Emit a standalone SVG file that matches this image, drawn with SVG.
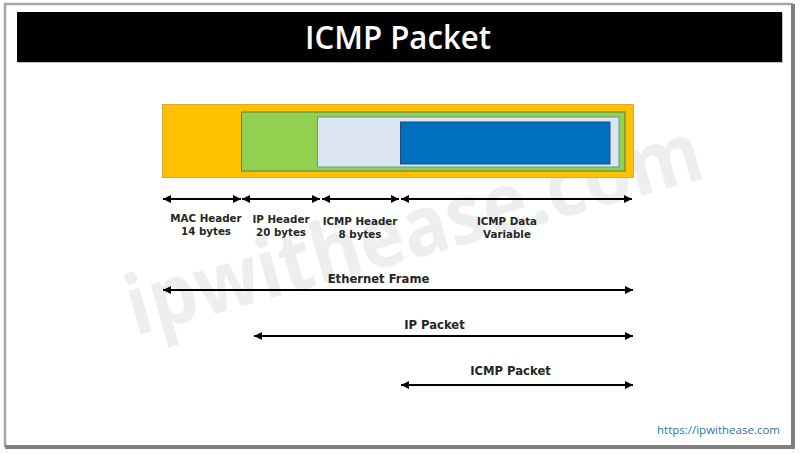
<svg xmlns="http://www.w3.org/2000/svg" width="800" height="454" viewBox="0 0 800 454">
<style>
.lb{font-family:"DejaVu Sans","Liberation Sans",sans-serif;font-weight:700;font-size:10.3px;fill:#262626;text-anchor:middle}
.lg{font-size:11.6px}
.ar{stroke:#000;stroke-width:2;fill:none;marker-start:url(#s);marker-end:url(#e)}
</style>
<defs>
<marker id="e" markerUnits="userSpaceOnUse" markerWidth="10" markerHeight="10" refX="8" refY="5" orient="auto"><path d="M0 1L8 5L0 9z" fill="#000"/></marker>
<marker id="s" markerUnits="userSpaceOnUse" markerWidth="10" markerHeight="10" refX="0" refY="5" orient="auto"><path d="M8 1L0 5L8 9z" fill="#000"/></marker>
</defs>
<rect width="800" height="454" fill="#fff"/>
<g id="frame"><path d="M5 447V4H793" fill="none" stroke="#a6a6a6" stroke-width="2.5"/><path d="M793 4V447H5" fill="none" stroke="#7f7f7f" stroke-width="4"/></g>
<g id="title"><rect x="18" y="13" width="765" height="50" fill="#bfbfbf"/><rect x="17" y="12" width="765" height="50" fill="#000"/>
<text x="398" y="49" font-family="'Open Sans','Noto Sans',sans-serif" font-weight="600" font-size="32" fill="#fff" text-anchor="middle" textLength="186" lengthAdjust="spacingAndGlyphs">ICMP Packet</text></g>
<text id="watermark" x="0" y="0" transform="translate(135 336) rotate(-15.5)" font-family="'Open Sans','Noto Sans',sans-serif" font-weight="700" font-size="83" fill="#e9e9e9" opacity="0.75" textLength="594" lengthAdjust="spacingAndGlyphs">ipwithease.com</text>
<g id="ethernet-box"><rect x="162.5" y="104.5" width="471" height="73" fill="#ffc000" stroke="#d6a93a"/></g>
<g id="ip-box"><rect x="241.5" y="112" width="383.5" height="59" fill="#92d050" stroke="#5e7d3c"/></g>
<g id="icmp-box"><rect x="317.5" y="117" width="301.5" height="50" fill="#dce6f2" stroke="#5f9a8c"/></g>
<g id="data-box"><rect x="400.5" y="122" width="209.5" height="42" fill="#0070c0" stroke="#1f4e79"/></g>
<g id="connectors">
<line class="ar" x1="163" y1="199" x2="241" y2="199"/>
<line class="ar" x1="242" y1="199" x2="320" y2="199"/>
<line class="ar" x1="322" y1="199" x2="399" y2="199"/>
<line class="ar" x1="401" y1="199" x2="632" y2="199"/>
<line class="ar" x1="163" y1="290" x2="633" y2="290"/>
<line class="ar" x1="254" y1="336" x2="633" y2="336"/>
<line class="ar" x1="401" y1="385" x2="633" y2="385"/>
</g>
<g id="labels">
<text class="lb" x="206" y="222">MAC Header</text><text class="lb" x="206" y="235">14 bytes</text>
<text class="lb" x="281" y="223">IP Header</text><text class="lb" x="281" y="236">20 bytes</text>
<text class="lb" x="360" y="225">ICMP Header</text><text class="lb" x="360" y="238">8 bytes</text>
<text class="lb" x="507" y="225">ICMP Data</text><text class="lb" x="507" y="238">Variable</text>
<text class="lb lg" x="378.5" y="283">Ethernet Frame</text>
<text class="lb lg" x="434.5" y="329">IP Packet</text>
<text class="lb lg" x="510.5" y="375">ICMP Packet</text>
</g>
<text id="url" x="780" y="434" font-family="'Open Sans','Noto Sans',sans-serif" font-size="11.5" fill="#2e74a6" text-anchor="end">https://ipwithease.com</text>
</svg>
